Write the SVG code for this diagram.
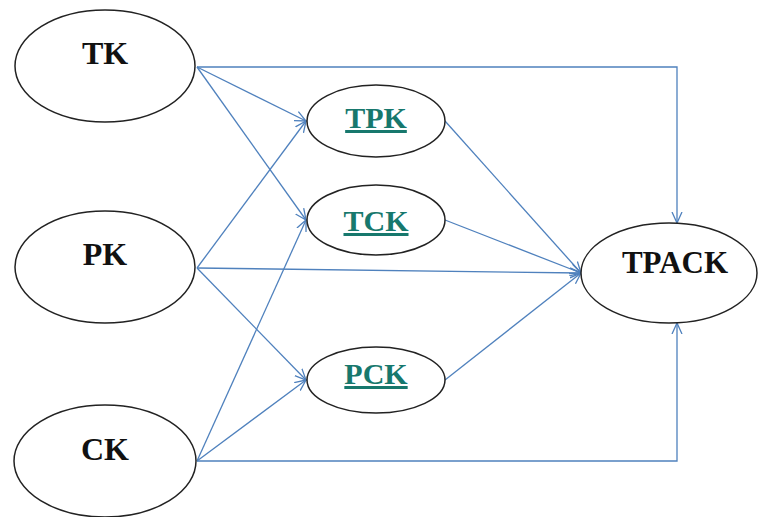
<svg xmlns="http://www.w3.org/2000/svg" width="762" height="517" viewBox="0 0 762 517">
<style>
.n{fill:#fff;stroke:#222;stroke-width:1.5}
.t{font-family:"Liberation Serif","Times New Roman",serif;font-weight:bold;text-anchor:middle;fill:#111;font-size:32px}
.s{font-family:"Liberation Serif","Times New Roman",serif;font-weight:bold;text-anchor:middle;fill:#17786d;font-size:30px;text-decoration:underline}
.c{fill:none;stroke:#4f81bd;stroke-width:1.3;marker-end:url(#a)}
</style>
<defs>
<marker id="a" viewBox="0 0 12 12" refX="11" refY="6" markerWidth="12" markerHeight="12" markerUnits="userSpaceOnUse" orient="auto">
<path d="M0,1 L11,6 L0,11" fill="none" stroke="#4f81bd" stroke-width="1.3"/>
</marker>
</defs>
<rect width="762" height="517" fill="#fff"/>
<g id="connectors">
<path class="c" d="M197,67 H677 V223"/>
<path class="c" d="M197,67 L306,121"/>
<path class="c" d="M197,67 L306,220"/>
<path class="c" d="M197,268 L306,121"/>
<path class="c" d="M197,268 L581,273"/>
<path class="c" d="M197,268 L306,380"/>
<path class="c" d="M197,461 L306,220"/>
<path class="c" d="M197,461 L306,380"/>
<path class="c" d="M197,461 H677 V323"/>
<path class="c" d="M445,121 L581,273"/>
<path class="c" d="M445,220 L581,273"/>
<path class="c" d="M445,380 L581,273"/>
</g>
<g id="TK"><ellipse class="n" cx="105" cy="66" rx="90" ry="56"/><text class="t" x="105" y="64">TK</text></g>
<g id="PK"><ellipse class="n" cx="105" cy="267" rx="90" ry="56"/><text class="t" x="105" y="265">PK</text></g>
<g id="CK"><ellipse class="n" cx="105" cy="461" rx="91" ry="56"/><text class="t" x="105" y="460">CK</text></g>
<g id="TPK"><ellipse class="n" cx="376" cy="121" rx="69" ry="36"/><text class="s" x="376" y="128">TPK</text></g>
<g id="TCK"><ellipse class="n" cx="376" cy="220" rx="69" ry="35"/><text class="s" x="376" y="231">TCK</text></g>
<g id="PCK"><ellipse class="n" cx="376" cy="380" rx="69" ry="33"/><text class="s" x="376" y="384">PCK</text></g>
<g id="TPACK"><ellipse class="n" cx="669" cy="273" rx="88" ry="50"/><text class="t" x="675" y="273" style="font-size:31px">TPACK</text></g>
</svg>
